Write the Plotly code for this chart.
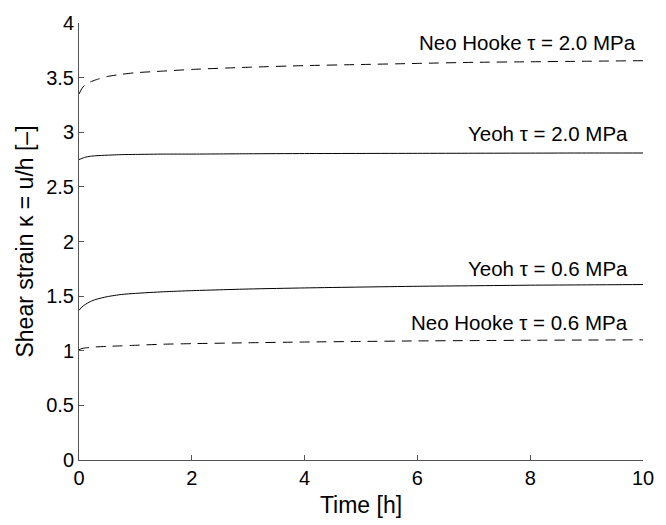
import plotly.graph_objects as go

# Time [h]
time_h = [0, 0.05, 0.1, 0.2, 0.3, 0.5, 0.75, 1, 1.5, 2, 3, 4, 5, 6, 7, 8, 9, 10]

neo_hooke_2_0 = [3.35, 3.40, 3.43, 3.46, 3.48, 3.51, 3.53, 3.545, 3.56, 3.575,
                 3.595, 3.61, 3.62, 3.63, 3.64, 3.645, 3.65, 3.655]
yeoh_2_0 = [2.75, 2.76, 2.77, 2.78, 2.785, 2.79, 2.795, 2.797, 2.80, 2.80,
            2.803, 2.805, 2.806, 2.807, 2.808, 2.809, 2.81, 2.81]
yeoh_0_6 = [1.37, 1.40, 1.42, 1.45, 1.47, 1.495, 1.515, 1.525, 1.54, 1.55,
            1.565, 1.575, 1.583, 1.59, 1.595, 1.60, 1.603, 1.606]
neo_hooke_0_6 = [1.01, 1.02, 1.025, 1.03, 1.035, 1.04, 1.045, 1.05, 1.06, 1.065,
                 1.073, 1.08, 1.085, 1.09, 1.093, 1.096, 1.098, 1.10]

series_names = ["Neo Hooke τ = 2.0 MPa", "Yeoh τ = 2.0 MPa",
                "Yeoh τ = 0.6 MPa", "Neo Hooke τ = 0.6 MPa"]
series_values = [neo_hooke_2_0, yeoh_2_0, yeoh_0_6, neo_hooke_0_6]
series_dash = ["10px,7px", "solid", "solid", "10px,7px"]

x_ticks = [0, 2, 4, 6, 8, 10]
y_ticks = [0, 0.5, 1, 1.5, 2, 2.5, 3, 3.5, 4]
y_tick_labels = ["0", "0.5", "1", "1.5", "2", "2.5", "3", "3.5", "4"]

# label anchor positions (data coords, right-aligned)
label_x = [9.91, 9.77, 9.77, 9.77]
label_y = [3.824, 2.99, 1.757, 1.26]

FONT = "Liberation Sans, Arial, Helvetica, sans-serif"

fig = go.Figure()
for name, vals, dash in zip(series_names, series_values, series_dash):
    fig.add_trace(go.Scatter(x=time_h, y=vals, mode="lines", name=name,
                             line=dict(color="black", width=1, dash=dash,
                                       shape="spline", smoothing=0.6)))

for name, lx, ly in zip(series_names, label_x, label_y):
    fig.add_annotation(x=lx, y=ly, xref="x", yref="y", text=name, showarrow=False,
                       xanchor="right", yanchor="middle",
                       font=dict(family=FONT, size=20.5, color="black"))

axis_common = dict(showgrid=False, zeroline=False, showline=True, linecolor="#555",
                   linewidth=1, ticks="inside", ticklen=5, tickcolor="#555",
                   tickfont=dict(family=FONT, size=20, color="black"))

fig.update_xaxes(range=[0, 10], tickvals=x_ticks, ticktext=[str(v) for v in x_ticks],
                 title=dict(text="Time [h]", font=dict(family=FONT, size=23, color="black"),
                            standoff=8),
                 **axis_common)
fig.update_yaxes(range=[0, 4], tickvals=y_ticks, ticktext=y_tick_labels,
                 title=dict(text="Shear strain κ = u/h [–]",
                            font=dict(family=FONT, size=23, color="black"), standoff=6),
                 **axis_common)

fig.update_layout(width=666, height=525, showlegend=False,
                  margin=dict(l=79, r=14, t=13, b=61, pad=0),
                  plot_bgcolor="white", paper_bgcolor="white",
                  font=dict(family=FONT, color="black"))

fig.write_html("out.html")
